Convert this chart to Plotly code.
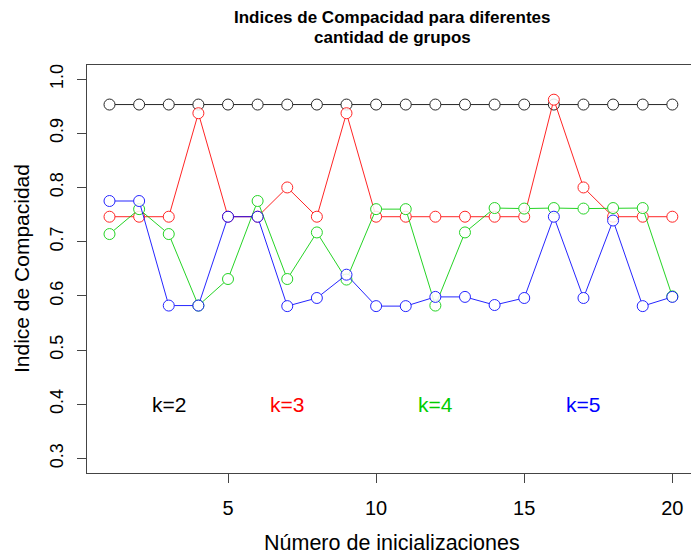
import plotly.graph_objects as go

inicializaciones = list(range(1, 21))

k2 = [0.953] * 20
k3 = [0.746, 0.746, 0.746, 0.937, 0.746, 0.746, 0.800, 0.746, 0.937, 0.746,
      0.746, 0.746, 0.746, 0.746, 0.746, 0.962, 0.800, 0.746, 0.746, 0.746]
k4 = [0.714, 0.760, 0.714, 0.582, 0.631, 0.775, 0.631, 0.717, 0.630, 0.760,
      0.760, 0.582, 0.717, 0.762, 0.761, 0.762, 0.761, 0.762, 0.762, 0.599]
k5 = [0.775, 0.775, 0.582, 0.582, 0.746, 0.746, 0.581, 0.596, 0.639, 0.581,
      0.581, 0.598, 0.598, 0.583, 0.596, 0.746, 0.596, 0.739, 0.581, 0.598]

series = [("k=2", k2, "#000000"), ("k=3", k3, "#FF0000"),
          ("k=4", k4, "#00CD00"), ("k=5", k5, "#0000FF")]
label_x = [3, 7, 12, 17]
label_y = 0.4

x_ticks = [5, 10, 15, 20]
y_ticks = [0.3, 0.4, 0.5, 0.6, 0.7, 0.8, 0.9, 1.0]
y_ticktext = ["0.3", "0.4", "0.5", "0.6", "0.7", "0.8", "0.9", "1.0"]
title_lines = ["Indices de Compacidad para diferentes", "cantidad de grupos"]

FONT = "Liberation Sans, Arial, Helvetica, sans-serif"

fig = go.Figure()
for name, vals, col in series:
    fig.add_trace(go.Scatter(
        x=inicializaciones, y=vals, mode="lines+markers", name=name,
        line=dict(color=col, width=1),
        marker=dict(symbol="circle", size=11, color="white",
                    line=dict(color=col, width=1)),
        opacity=0.85,
        showlegend=False, cliponaxis=False,
    ))

for (name, vals, col), lx in zip(series, label_x):
    fig.add_annotation(x=lx, y=label_y, xref="x", yref="y", text=name,
                       showarrow=False, font=dict(family=FONT, size=21, color=col))

fig.update_layout(
    width=691, height=559,
    margin=dict(l=87, r=0, t=65, b=86),
    paper_bgcolor="white", plot_bgcolor="white",
    font=dict(family=FONT, color="#000000"),
)

# two-line bold title (R-style tight line spacing)
for line, ypx in zip(title_lines, [18, 37]):
    fig.add_annotation(text="<b>" + line + "</b>", xref="paper", yref="paper",
                       x=(392 - 87) / 604, y=1 + (65 - ypx) / 408,
                       xanchor="center", yanchor="middle", showarrow=False,
                       font=dict(family=FONT, size=17, color="#000"))

fig.update_xaxes(
    range=[0.24, 20.63], tickvals=x_ticks, ticktext=[str(v) for v in x_ticks],
    ticks="outside", ticklen=9, tickcolor="#444", tickwidth=1,
    showline=True, linecolor="#444", linewidth=1.3, mirror=True,
    showgrid=False, zeroline=False,
    tickfont=dict(family=FONT, size=20, color="#000"),
    ticklabelstandoff=8,
)
fig.update_yaxes(
    range=[0.273, 1.026], tickvals=y_ticks, ticktext=y_ticktext,
    ticks="outside", ticklen=9, tickcolor="#444", tickwidth=1,
    showline=True, linecolor="#444", linewidth=1.3, mirror=False,
    showgrid=False, zeroline=False, tickangle=-90,
    tickfont=dict(family=FONT, size=18, color="#000"),
    ticklabelstandoff=7,
)

fig.add_annotation(text="Número de inicializaciones", xref="paper", yref="paper",
                   x=(392 - 87) / 604, y=-(543 - 473) / 408, xanchor="center", yanchor="middle",
                   showarrow=False, font=dict(family=FONT, size=21.5, color="#000"))
fig.add_annotation(text="Indice de Compacidad", xref="paper", yref="paper",
                   x=(21 - 87) / 604, y=0.5, xanchor="center", yanchor="middle",
                   textangle=-90, showarrow=False,
                   font=dict(family=FONT, size=21, color="#000"))

fig.write_html("out.html")
